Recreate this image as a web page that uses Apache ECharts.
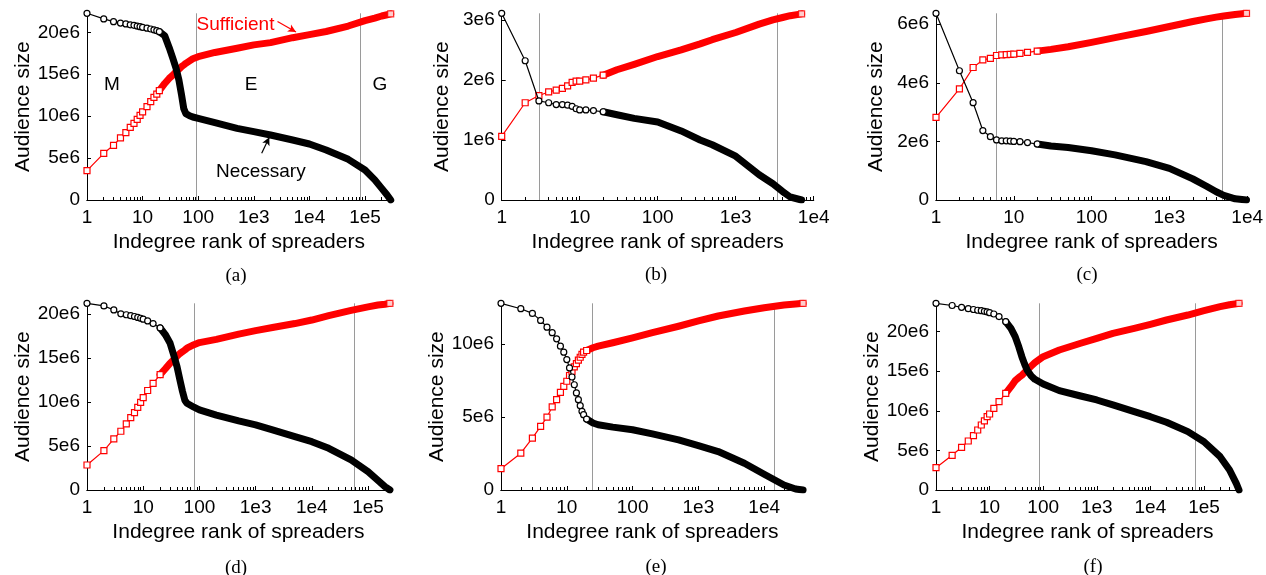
<!DOCTYPE html>
<html><head><meta charset="utf-8">
<script src="https://cdn.jsdelivr.net/npm/echarts@6/dist/echarts.min.js"></script>
<style>html,body{margin:0;padding:0;background:#fff}#c{width:1266px;height:575px}</style>
</head><body><div id="c"></div>
<script>
// ---- data (audience size in millions) ----
const rankA = [1,2,3,4,5,6,7,8,9,10,12,14,16,18,20,25,30,35,40,45,50,55,60,70,80,100,200,500,1000,2000,5000,10000,20000,50000,100000,150000,200000,250000,290000];
const necA  = [22.27,21.6,21.27,21.1,21.0,20.9,20.83,20.75,20.67,20.6,20.5,20.4,20.3,20.2,20.08,19.6,18.2,16.9,15.7,14.3,12.6,10.9,10.3,10.05,9.9,9.74,9.22,8.55,8.15,7.75,7.16,6.68,5.96,4.85,3.58,2.4,1.39,0.6,0];
const sufA  = [3.5,5.57,6.52,7.4,8.03,8.67,9.15,9.62,10.1,10.5,11.13,11.73,12.25,12.64,13.04,13.9,14.5,14.9,15.3,15.6,15.9,16.1,16.3,16.6,16.85,17.1,17.6,18.1,18.5,18.77,19.36,19.72,20.1,20.75,21.4,21.7,21.95,22.1,22.2];
const vlA = [92, 83000];

const rankB = [1,2,3,4,5,6,7,8,9,10,12,15,20,30,50,100,200,350,500,1000,2000,3000,4000,5000,7000];
const necB  = [3.11,2.32,1.65,1.62,1.59,1.59,1.58,1.56,1.52,1.5,1.5,1.49,1.47,1.42,1.36,1.3,1.15,1.0,0.92,0.73,0.42,0.27,0.14,0.05,0];
const sufB  = [1.06,1.62,1.74,1.8,1.83,1.86,1.9,1.96,1.98,1.98,2.0,2.03,2.08,2.17,2.26,2.39,2.5,2.6,2.67,2.79,2.93,3.0,3.04,3.07,3.1];
const vlB = [3, 3400];

const rankC = [1,2,3,4,5,6,7,8,9,10,12,15,20,30,50,100,200,500,1000,2000,3000,4000,5000,7000,9800];
const necC  = [6.37,4.41,3.32,2.37,2.16,2.05,2.02,2.02,2.01,2.0,1.99,1.96,1.91,1.84,1.79,1.68,1.54,1.31,1.08,0.72,0.47,0.28,0.16,0.04,0];
const sufC  = [2.82,3.79,4.52,4.78,4.83,4.93,4.95,4.96,4.97,4.98,5.0,5.04,5.08,5.14,5.23,5.38,5.54,5.75,5.92,6.09,6.18,6.24,6.28,6.33,6.37];
const vlC = [6, 4840];

const rankD = [1,2,3,4,5,6,7,8,9,10,12,15,20,25,30,35,40,45,50,55,60,80,100,200,500,1000,2000,5000,10000,20000,50000,100000,150000,200000,245000];
const necD  = [21.2,20.9,20.45,20.0,19.9,19.8,19.7,19.6,19.5,19.4,19.2,18.9,18.4,17.6,16.7,15.3,14.0,12.5,11.2,10.2,9.85,9.4,9.1,8.5,7.84,7.39,6.82,6.06,5.49,4.73,3.41,2.08,1.1,0.38,0];
const sufD  = [2.84,4.47,5.8,6.67,7.5,8.22,8.79,9.39,9.96,10.5,11.3,12.1,13.1,13.8,14.4,14.8,15.2,15.5,15.7,15.9,16.1,16.5,16.74,17.1,17.7,18.1,18.45,18.9,19.3,19.8,20.4,20.8,21.0,21.1,21.2];
const vlD = [81, 57000];

const rankE = [1,2,3,4,5,6,7,8,9,10,11,12,13,14,15,16,17,18,20,25,30,50,100,200,500,1000,2000,5000,10000,20000,30000,39000];
const necE  = [12.77,12.4,12.08,11.6,11.14,10.76,10.34,9.84,9.43,8.92,8.35,7.73,7.2,6.64,6.18,5.77,5.38,5.15,4.85,4.58,4.46,4.3,4.12,3.84,3.43,3.04,2.63,1.83,1.08,0.34,0.07,0];
const sufE  = [1.46,2.52,3.55,4.35,4.99,5.68,6.18,6.68,7.09,7.44,7.83,8.12,8.42,8.65,8.88,9.08,9.27,9.43,9.54,9.73,9.84,10.07,10.41,10.76,11.2,11.56,11.9,12.24,12.47,12.65,12.72,12.77];
const vlE = [24, 14100];

const rankF = [1,2,3,4,5,6,7,8,9,10,12,15,20,25,30,35,40,45,50,60,70,100,200,500,1000,2000,5000,10000,20000,50000,100000,200000,300000,400000,450000];
const necF  = [23.58,23.3,23.07,22.9,22.8,22.7,22.65,22.57,22.5,22.4,22.23,21.9,21.26,20.4,19.37,18.1,16.84,15.9,15.16,14.4,13.98,13.39,12.55,11.87,11.37,10.74,9.9,9.26,8.55,7.37,6.1,4.21,2.53,0.84,0];
const sufF  = [2.82,4.38,5.39,6.19,6.86,7.58,8.21,8.72,9.26,9.6,10.3,11.16,12.2,13.05,13.8,14.2,14.5,14.85,15.16,15.66,16.08,16.84,17.68,18.53,19.16,19.79,20.42,20.93,21.47,22.1,22.65,23.16,23.4,23.53,23.58];
const vlF = [83, 68000];

const xTicks6 = [1,10,100,1000,10000,100000];
const xTicks5 = [1,10,100,1000,10000];
const yTicks20 = [0,5,10,15,20];
const yTicksB = [0,1,2,3];
const yTicksC = [0,2,4,6];
const yTicksE = [0,5,10];
const captions = ['(a)','(b)','(c)','(d)','(e)','(f)'];

// ---- layout ----
const SANS = '"Liberation Sans", Arial, Helvetica, sans-serif';
const SERIF = '"Liberation Serif", "Times New Roman", serif';
const P = [
  {g:{left:87,   top:13.3,  width:303.7, height:186.7}, xmax:290000, rank:rankA, nec:necA, suf:sufA, vl:vlA, xt:xTicks6, yt:yTicks20, cx:236, cy:276},
  {g:{left:501.7,top:13.3,  width:312,   height:186.7}, xmax:10000,  rank:rankB, nec:necB, suf:sufB, vl:vlB, xt:xTicks5, yt:yTicksB, cx:656, cy:275},
  {g:{left:936,  top:13.3,  width:311.2, height:186.7}, xmax:10000,  rank:rankC, nec:necC, suf:sufC, vl:vlC, xt:xTicks5, yt:yTicksC, cx:1087, cy:275},
  {g:{left:87,   top:303.3, width:302.9, height:186.7}, xmax:245000, rank:rankD, nec:necD, suf:sufD, vl:vlD, xt:xTicks6, yt:yTicks20, cx:236, cy:568},
  {g:{left:501,  top:303.3, width:302.8, height:186.7}, xmax:40000,  rank:rankE, nec:necE, suf:sufE, vl:vlE, xt:xTicks5, yt:yTicksE, cx:656, cy:567},
  {g:{left:936,  top:303.3, width:303.0, height:186.7}, xmax:450000, rank:rankF, nec:necF, suf:sufF, vl:vlF, xt:xTicks6, yt:yTicks20, cx:1093, cy:567}
];
const MARK_MAX = 20, BAND_MIN = 20;

function minorTicks(xmax){
  const out=[];
  for(let d=1; d<xmax; d*=10){ for(let k=2;k<=9;k++){ if(k*d<=xmax) out.push(k*d); } }
  return out;
}
function xfmt(v){ v=Number(v); return v<1000 ? String(Math.round(v)) : '1e'+Math.round(Math.log10(v)); }
function yfmt(v){ v=Number(v); return v===0 ? '0' : (Math.round(v*10)/10)+'e6'; }

const grid=[], xAxis=[], yAxis=[], series=[], graphic=[];
P.forEach((p,i)=>{
  grid.push(Object.assign({containLabel:false, outerBoundsMode:'none'}, p.g));
  const ymax = Math.max(Math.max(...p.nec), Math.max(...p.suf));
  xAxis.push({
    type:'log', logBase:10, gridIndex:i, min:1, max:p.xmax, position:'bottom',
    axisLine:{show:true, lineStyle:{color:'#000', width:1}},
    axisTick:{show:true, inside:true, length:4, customValues:p.xt, lineStyle:{color:'#000'}},
    axisLabel:{show:true, customValues:p.xt, formatter:xfmt, margin:8, fontSize:19, fontFamily:SANS, color:'#000', hideOverlap:false},
    splitLine:{show:false}, minorTick:{show:false}, minorSplitLine:{show:false},
    name:'Indegree rank of spreaders', nameLocation:'middle', nameGap:32,
    nameTextStyle:{fontSize:21, fontFamily:SANS, color:'#000'}
  });
  xAxis.push({
    type:'log', logBase:10, gridIndex:i, min:1, max:p.xmax, position:'bottom',
    axisLine:{show:true, lineStyle:{color:'#000', width:1}}, splitLine:{show:false},
    axisLabel:{show:true, customValues:minorTicks(p.xmax), formatter:()=>'', fontSize:1},
    axisTick:{show:true, inside:true, length:3, customValues:minorTicks(p.xmax), lineStyle:{color:'#000', width:1}}
  });
  yAxis.push({
    type:'value', gridIndex:i, min:0, max:ymax,
    axisLine:{show:true, lineStyle:{color:'#000', width:1}},
    axisTick:{show:true, inside:true, length:4, customValues:p.yt, lineStyle:{color:'#000'}},
    axisLabel:{show:true, customValues:p.yt, formatter:yfmt, margin:7, fontSize:19, fontFamily:SANS, color:'#000'},
    splitLine:{show:false},
    name:'Audience size', nameLocation:'middle', nameGap:49,
    nameTextStyle:{fontSize:21, fontFamily:SANS, color:'#000'}
  });
  const pts = arr => p.rank.map((r,k)=>[r, arr[k]]);
  const nec = pts(p.nec), suf = pts(p.suf);
  const xa = i*2, ya = i;
  series.push({type:'line', xAxisIndex:xa, yAxisIndex:ya, data:[], silent:true, z:1,
    markLine:{silent:true, z:1, symbol:['none','none'], label:{show:false},
      lineStyle:{color:'#9a9a9a', width:1, type:'solid'},
      data:p.vl.map(v=>({xAxis:v}))}});
  series.push({type:'line', xAxisIndex:xa, yAxisIndex:ya, z:3, silent:true, symbol:'none',
    lineStyle:{color:'#ff0000', width:7, cap:'round', join:'round'},
    data: suf.filter(d=>d[0]>=BAND_MIN)});
  series.push({type:'line', xAxisIndex:xa, yAxisIndex:ya, z:4, silent:true, showAllSymbol:true,
    symbol:'rect', symbolSize:6, itemStyle:{color:'#fff', borderColor:'#ff0000', borderWidth:1.2},
    lineStyle:{color:'#ff0000', width:1.2}, data: suf.filter(d=>d[0]<=MARK_MAX)});
  series.push({type:'scatter', xAxisIndex:xa, yAxisIndex:ya, z:4, silent:true,
    symbol:'rect', symbolSize:6, itemStyle:{color:'#fff', borderColor:'#ff0000', borderWidth:1.2},
    data:[suf[suf.length-1]]});
  const band = {type:'line', xAxisIndex:xa, yAxisIndex:ya, z:5, silent:true, symbol:'none',
    lineStyle:{color:'#000', width:7, cap:'round', join:'round'},
    data: nec.filter(d=>d[0]>=BAND_MIN)};
  if(i===0){
    band.markPoint = {silent:true, symbol:'circle', symbolSize:0,
      label:{show:true, position:'inside', formatter:'{b}', fontSize:19, fontFamily:SANS, color:'#000'},
      data:[
        {name:'M', coord:[2.82,13.72]},
        {name:'E', coord:[891,13.72]},
        {name:'G', coord:[186000,13.72]},
        {name:'Sufficient', coord:[469,20.88], label:{color:'#ff0000'}},
        {name:'Necessary', coord:[1336,3.38]}
      ]};
    band.markLine = {silent:true, symbol:['none','arrow'], symbolSize:[6,8], label:{show:false},
      data:[
        [{coord:[2669,21.3], lineStyle:{color:'#ff0000', width:1.2, type:'solid'}},{coord:[5741,20.05]}],
        [{coord:[1387,5.57], lineStyle:{color:'#000', width:1.2, type:'solid'}},{coord:[1901,7.48]}]
      ]};
  }
  series.push(band);
  series.push({type:'line', xAxisIndex:xa, yAxisIndex:ya, z:6, silent:true, showAllSymbol:true,
    symbol:'circle', symbolSize:6, itemStyle:{color:'#fff', borderColor:'#000', borderWidth:1.2},
    lineStyle:{color:'#000', width:1.2}, data: nec.filter(d=>d[0]<=MARK_MAX)});
  graphic.push({type:'text', x:p.cx, y:p.cy, silent:true,
    style:{text:captions[i], fontSize:19, fontFamily:SERIF, fill:'#000', textAlign:'center', textVerticalAlign:'middle', verticalAlign:'middle'}});
});

const chart = echarts.init(document.getElementById('c'), null, {renderer:'canvas'});
chart.setOption({animation:false, backgroundColor:'#fff', grid, xAxis, yAxis, series, graphic, tooltip:{show:false}});
</script>
</body></html>
